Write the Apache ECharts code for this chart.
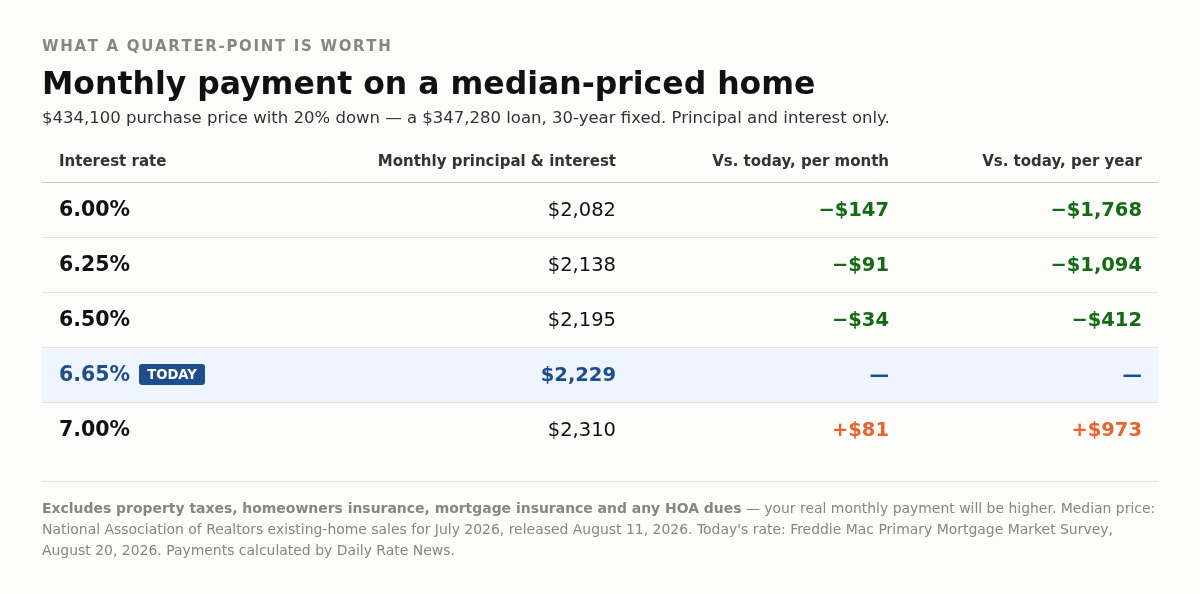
<!DOCTYPE html>
<html>
<head>
<meta charset="utf-8">
<script src="https://cdn.jsdelivr.net/npm/echarts@6/dist/echarts.min.js"></script>
<style>
  html, body { margin: 0; padding: 0; background: #fcfcfb; }
  #main { width: 1200px; height: 594px; }
</style>
</head>
<body>
<div id="main"></div>
<script>
// table values
var rates = [6.00, 6.25, 6.50, 6.65, 7.00];
var payments = [2082, 2138, 2195, 2229, 2310];
var diffMonth = [-147, -91, -34, null, 81];
var diffYear = [-1768, -1094, -412, null, 973];
var todayIndex = 3;
var headers = ['Interest rate', 'Monthly principal & interest', 'Vs. today, per month', 'Vs. today, per year'];

var FONT = 'DejaVu Sans';
var GREY = '#8a857e';
var BLUE = '#1e4d8c';
var GREEN = '#156a15';
var ORANGE = '#e8632f';

// column anchors in x-axis units (0 = left edge of table)
var colX = [17, 574, 847, 1100];
var colAlign = ['left', 'right', 'right', 'right'];
var textNudge = 1.5; // canvas 'middle' sits a touch high

function money(v) {
    return '$' + Math.abs(v).toLocaleString('en-US');
}
function diffText(v) {
    if (v == null) return '\u2014';
    return (v < 0 ? '\u2212' : '+') + money(v);
}
function diffColor(v) {
    if (v == null) return BLUE;
    return v < 0 ? GREEN : ORANGE;
}

// kicker with a bit of letter spacing
var kicker = 'WHAT A QUARTER-POINT IS WORTH'.split('').join('{sp|\u2009}');

var myChart = echarts.init(document.getElementById('main'));

var headerText = headers.map(function (h, k) {
    return {
        type: 'text',
        x: 42 + colX[k],
        y: 162,
        style: {
            text: h, fill: '#333333', fontFamily: FONT, fontSize: 15, fontWeight: 'bold',
            align: colAlign[k], verticalAlign: 'middle'
        }
    };
});

function cellText(x, y, text, color, size, bold, align) {
    return {
        type: 'text',
        style: {
            x: x, y: y + textNudge, text: text,
            fill: color, fontFamily: FONT, fontSize: size, fontWeight: bold ? 'bold' : 'normal',
            align: align, verticalAlign: 'middle'
        }
    };
}

function renderRow(params, api) {
    var i = api.value(1);
    var cs = params.coordSys;
    var h = api.size([0, 1])[1];
    var cy = api.coord([0, i])[1];
    var today = i === todayIndex;
    var children = [];

    if (today) {
        children.push({
            type: 'rect',
            shape: { x: cs.x, y: cy - h / 2 + 1, width: cs.width, height: h - 1 },
            style: { fill: '#eff5ff' }
        });
    }
    if (i < rates.length - 1) {
        var yb = Math.round(cy + h / 2) + 0.5;
        children.push({
            type: 'line',
            shape: { x1: cs.x, y1: yb, x2: cs.x + cs.width, y2: yb },
            style: { stroke: '#e2e2df', lineWidth: 1 }
        });
    }

    var p0 = api.coord([colX[0], i]);
    children.push(cellText(p0[0], cy, rates[i].toFixed(2) + '%', today ? BLUE : '#111111', 20.5, true, 'left'));
    if (today) {
        children.push({
            type: 'rect',
            shape: { x: p0[0] + 80, y: cy - 10.5, width: 66, height: 21, r: 3 },
            style: { fill: BLUE }
        });
        children.push({
            type: 'text',
            style: {
                x: p0[0] + 113, y: cy + 1, text: 'TODAY',
                fill: '#ffffff', fontFamily: FONT, fontSize: 13.2, fontWeight: 'bold',
                align: 'center', verticalAlign: 'middle'
            }
        });
    }

    var p1 = api.coord([colX[1], i]);
    children.push(cellText(p1[0], cy, money(payments[i]), today ? BLUE : '#111111', 19.5, today, 'right'));

    var p2 = api.coord([colX[2], i]);
    children.push(cellText(p2[0], cy, diffText(diffMonth[i]), diffColor(diffMonth[i]), 19.5, true, 'right'));

    var p3 = api.coord([colX[3], i]);
    children.push(cellText(p3[0], cy, diffText(diffYear[i]), diffColor(diffYear[i]), 19.5, true, 'right'));

    return { type: 'group', children: children };
}

var option = {
    backgroundColor: '#fcfcfb',
    animation: false,
    grid: { left: 42, right: 42, top: 182, height: 275 },
    xAxis: {
        type: 'value', min: 0, max: 1116, position: 'top',
        axisLine: { show: true, lineStyle: { color: '#c9c9c5', width: 1 } },
        axisTick: { show: false }, axisLabel: { show: false }, splitLine: { show: false }
    },
    yAxis: {
        type: 'category', inverse: true, show: false,
        data: rates.map(function (r) { return r.toFixed(2) + '%'; })
    },
    series: [{
        type: 'custom',
        renderItem: renderRow,
        encode: { x: 0, y: 1 },
        data: rates.map(function (r, i) { return [0, i]; })
    }],
    graphic: [
        {
            type: 'text', x: 42, y: 47.5,
            style: {
                text: kicker, fill: GREY, fontFamily: FONT, fontSize: 15, fontWeight: 'bold',
                verticalAlign: 'middle',
                rich: { sp: { fontSize: 8.4, fontFamily: FONT } }
            }
        },
        {
            type: 'text', x: 42, y: 86,
            style: {
                text: 'Monthly payment on a median-priced home', fill: '#111111',
                fontFamily: FONT, fontSize: 31.5, fontWeight: 'bold', verticalAlign: 'middle'
            }
        },
        {
            type: 'text', x: 42, y: 119,
            style: {
                text: '$434,100 purchase price with 20% down \u2014 a $347,280 loan, 30-year fixed. Principal and interest only.',
                fill: '#333333', fontFamily: FONT, fontSize: 16.5, verticalAlign: 'middle'
            }
        }
    ].concat(headerText).concat([
        {
            type: 'line',
            shape: { x1: 42, y1: 481.5, x2: 1158, y2: 481.5 },
            style: { stroke: '#e2e2df', lineWidth: 1 }
        },
        {
            type: 'text', x: 42, y: 499,
            style: {
                text: '{b|Excludes property taxes, homeowners insurance, mortgage insurance and any HOA dues} \u2014 your real monthly payment will be higher. Median price:\n' +
                    'National Association of Realtors existing-home sales for July 2026, released August 11, 2026. Today\'s rate: Freddie Mac Primary Mortgage Market Survey,\n' +
                    'August 20, 2026. Payments calculated by Daily Rate News.',
                fill: GREY, fontFamily: FONT, fontSize: 13.95, lineHeight: 21,
                rich: { b: { fontWeight: 'bold', fontFamily: FONT, fontSize: 13.95, fill: GREY, lineHeight: 21 } }
            }
        }
    ])
};

myChart.setOption(option);
</script>
</body>
</html>
